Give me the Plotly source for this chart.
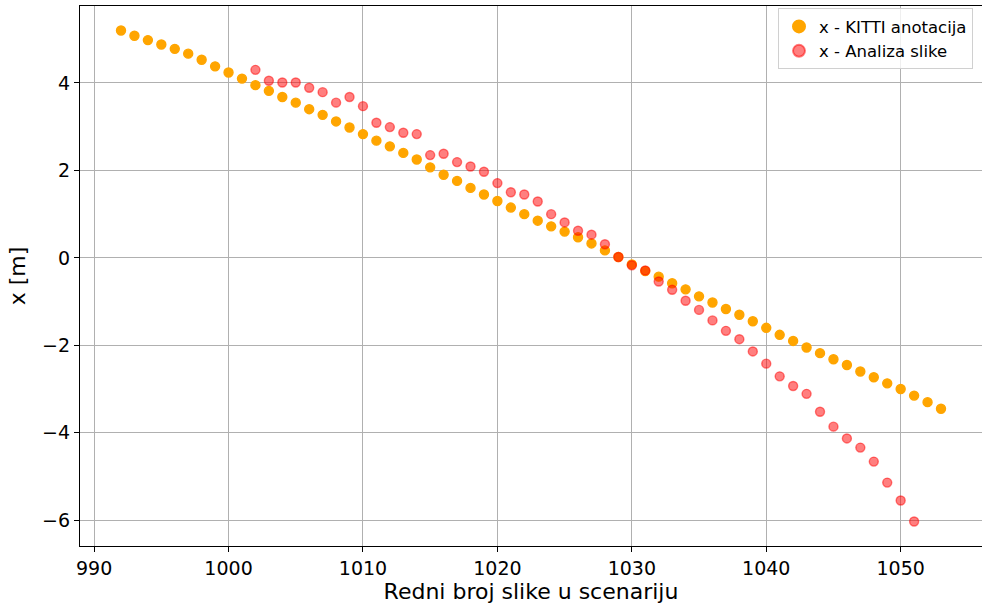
import plotly.graph_objects as go

kitti_frames = list(range(992, 1054))
kitti_x = [5.2, 5.08, 4.98, 4.88, 4.78, 4.67, 4.53, 4.38, 4.24, 4.1,
           3.95, 3.82, 3.68, 3.55, 3.4, 3.27, 3.12, 2.98, 2.83, 2.68,
           2.55, 2.4, 2.25, 2.07, 1.9, 1.76, 1.6, 1.45, 1.3, 1.15,
           1.0, 0.85, 0.72, 0.6, 0.47, 0.33, 0.17, 0.02, -0.15, -0.3,
           -0.43, -0.58, -0.72, -0.88, -1.02, -1.17, -1.3, -1.45, -1.6, -1.76,
           -1.9, -2.05, -2.18, -2.32, -2.45, -2.6, -2.73, -2.87, -3.0, -3.15,
           -3.3, -3.45]

img_frames = list(range(1002, 1052))
img_x = [4.30, 4.05, 4.01, 4.01, 3.89, 3.79, 3.55, 3.68, 3.47, 3.09,
         2.99, 2.86, 2.83, 2.35, 2.38, 2.19, 2.09, 1.97, 1.71, 1.50,
         1.45, 1.29, 1.0, 0.81, 0.62, 0.53, 0.31, 0.02, -0.17, -0.29,
         -0.54, -0.73, -0.98, -1.19, -1.43, -1.67, -1.86, -2.14, -2.42, -2.71,
         -2.93, -3.11, -3.52, -3.86, -4.13, -4.34, -4.66, -5.14, -5.55, -6.03]

x_ticks = [990, 1000, 1010, 1020, 1030, 1040, 1050]
y_ticks = [-6, -4, -2, 0, 2, 4]

FONT = "DejaVu Sans"

fig = go.Figure()
fig.add_trace(go.Scatter(
    x=kitti_frames, y=kitti_x, mode="markers", name="x - KITTI anotacija",
    marker=dict(size=9, color="#FFA500", line=dict(color="#FFA500", width=1.4)),
))
fig.add_trace(go.Scatter(
    x=img_frames, y=img_x, mode="markers", name="x - Analiza slike",
    marker=dict(size=9, color="rgba(255,0,0,0.5)", line=dict(color="rgba(255,0,0,0.5)", width=1.4)),
))

fig.update_layout(
    width=982, height=608,
    margin=dict(l=80, r=0, t=6, b=62, autoexpand=False),
    paper_bgcolor="white", plot_bgcolor="white",
    font=dict(family=FONT, color="black", size=14),
    showlegend=True,
    legend=dict(
        x=(778 - 80) / 902, y=0.996, xref="paper", yref="paper",
        xanchor="left", yanchor="top",
        bgcolor="rgba(255,255,255,0.8)", bordercolor="#d0d0d0", borderwidth=1,
        font=dict(family=FONT, size=16.5, color="black"),
        itemsizing="constant", tracegroupgap=0,
    ),
)
fig.update_xaxes(
    range=[988.95, 1056.05], tickvals=x_ticks, ticktext=[str(v) for v in x_ticks],
    showgrid=True, gridcolor="#b0b0b0", gridwidth=0.8,
    showline=True, linecolor="black", linewidth=1.2, mirror=True,
    ticks="outside", ticklen=5, tickwidth=1.1, tickcolor="black",
    tickfont=dict(family=FONT, size=19),
    title=dict(text="Redni broj slike u scenariju", font=dict(family=FONT, size=22), standoff=4),
    zeroline=False, automargin=False,
)
fig.update_yaxes(
    range=[-6.59, 5.76], tickvals=y_ticks,
    showgrid=True, gridcolor="#b0b0b0", gridwidth=0.8,
    showline=True, linecolor="black", linewidth=1.2, mirror=False,
    ticks="outside", ticklen=5, tickwidth=1.1, tickcolor="black",
    tickfont=dict(family=FONT, size=19),
    title=dict(text="x [m]", font=dict(family=FONT, size=22), standoff=10),
    zeroline=False, automargin=False,
)

fig.write_html(
    "out.html",
    config={"displayModeBar": False},
    post_script="document.body.style.margin='0';document.body.style.overflow='hidden';",
)
